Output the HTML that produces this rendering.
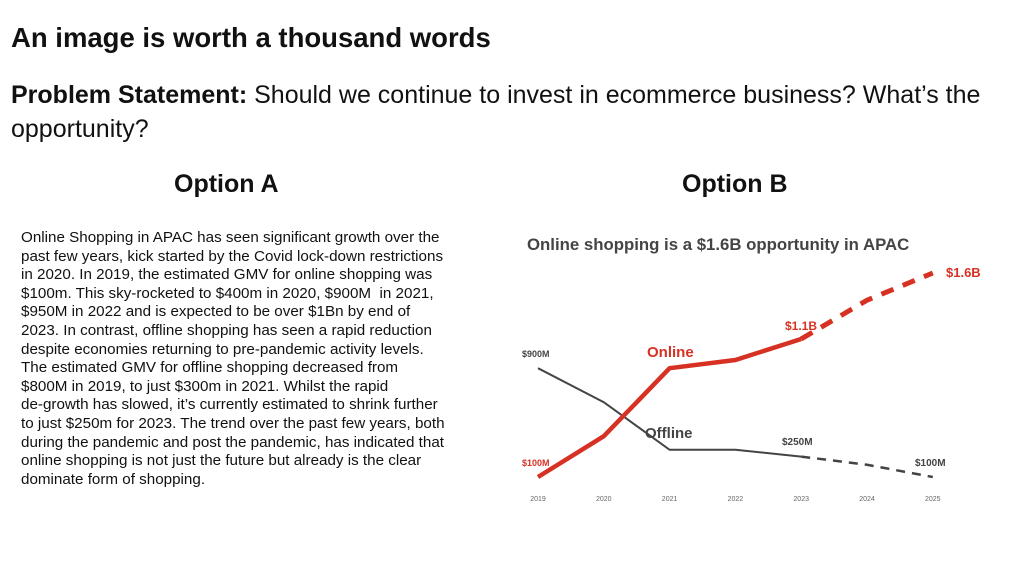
<!DOCTYPE html>
<html><head><meta charset="utf-8"><style>
body{margin:0;width:1014px;height:575px;background:#fff;font-family:"Liberation Sans",Arial,sans-serif;color:#111;position:relative;overflow:hidden}
.abs{position:absolute}
</style></head><body>
<div class="abs" style="left:11px;top:22px;font-size:27.5px;font-weight:bold">An image is worth a thousand words</div>
<div class="abs" style="left:11px;top:78px;font-size:25px;line-height:34px;width:990px"><b>Problem Statement:</b> Should we continue to invest in ecommerce business? What’s the<br>opportunity?</div>
<div class="abs" style="left:174px;top:170px;font-size:25px;font-weight:bold">Option A</div>
<div class="abs" style="left:682px;top:170px;font-size:25px;font-weight:bold">Option B</div>
<div class="abs" style="left:21px;top:229px;font-size:15.2px;line-height:18.6px;white-space:nowrap">Online Shopping in APAC has seen significant growth over the<br>past few years, kick started by the Covid lock-down restrictions<br>in 2020. In 2019, the estimated GMV for online shopping was<br>$100m. This sky-rocketed to $400m in 2020, $900M&nbsp; in 2021,<br>$950M in 2022 and is expected to be over $1Bn by end of<br>2023. In contrast, offline shopping has seen a rapid reduction<br>despite economies returning to pre-pandemic activity levels.<br>The estimated GMV for offline shopping decreased from<br>$800M in 2019, to just $300m in 2021. Whilst the rapid<br>de-growth has slowed, it’s currently estimated to shrink further<br>to just $250m for 2023. The trend over the past few years, both<br>during the pandemic and post the pandemic, has indicated that<br>online shopping is not just the future but already is the clear<br>dominate form of shopping.</div>
<svg class="abs" style="left:0;top:0" width="1014" height="575">
<text x="527" y="250" font-size="16.8" font-weight="bold" fill="#444">Online shopping is a $1.6B opportunity in APAC</text>
<g id="g"></g>
</svg>
<script>
const years=['2019','2020','2021','2022','2023','2024','2025'];
const online=[100,400,900,960,1115,1400,1600];
const offline=[900,650,300,300,250,190,100];
const actualCount=5;
const x=i=>538+i*65.8;
const y=v=>477-(v-100)*0.136;
const g=document.getElementById('g');
const NS='http://www.w3.org/2000/svg';
function el(t,a){const e=document.createElementNS(NS,t);for(const k in a)e.setAttribute(k,a[k]);g.appendChild(e);return e;}
function pts(arr,from,to){let s=[];for(let i=from;i<=to;i++)s.push(x(i)+','+y(arr[i]));return s.join(' ');}
let e;
e=el('polyline',{points:pts(offline,0,4),fill:'none',stroke:'#444',"stroke-width":2});


e=el('polyline',{points:pts(offline,4,6),fill:'none',stroke:'#444',"stroke-width":2.5,"stroke-dasharray":"9,7"});


e=el('polyline',{points:pts(online,0,4),fill:'none',stroke:'#d63122',"stroke-width":4.5,"stroke-linejoin":"round"});


e=el('polyline',{points:pts(online,4,6),fill:'none',stroke:'#d63122',"stroke-width":5,"stroke-dasharray":"13,10"});


years.forEach((yr,i)=>{
 const t=el('text',{x:x(i),y:501,"font-size":7,fill:'#666',"text-anchor":'middle'});t.textContent=yr;
 
 
});
const labels=[['$900M',522,357,'#444',9],['$100M',522,466,'#d63122',9],['Online',647,357,'#d63122',15],['Offline',645,438,'#444',15],['$250M',782,445,'#444',10],['$1.1B',785,330,'#d63122',12],['$1.6B',946,277,'#d63122',13],['$100M',915,466,'#444',10]];
labels.forEach(l=>{
 const t=el('text',{x:l[1],y:l[2],"font-size":l[4],"font-weight":'bold',fill:l[3]});t.textContent=l[0];
 
 
});
</script>
</body></html>
